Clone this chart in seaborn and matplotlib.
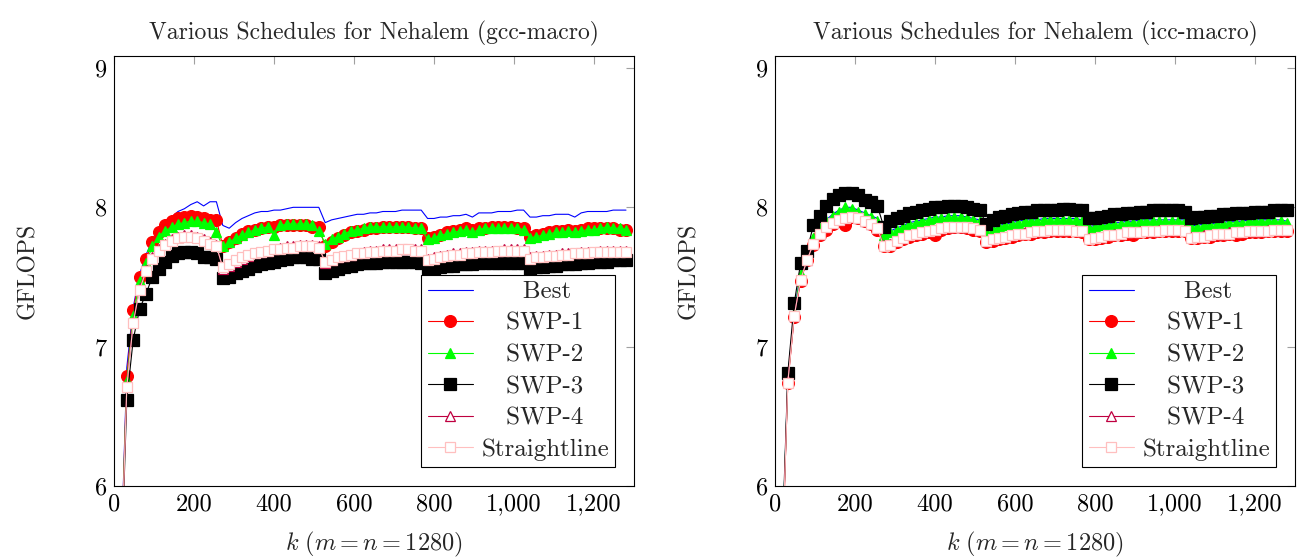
import matplotlib
matplotlib.use("Agg")
import matplotlib.pyplot as plt
from matplotlib.ticker import FuncFormatter, FixedLocator
import seaborn as sns
import pandas as pd

# ---------------- data ----------------
k_values = list(range(16, 1281, 16))

gcc_best = [
    5.3, 6.85, 7.28, 7.52, 7.66, 7.76, 7.83, 7.89, 7.93, 7.97, 7.99, 8.02, 8.04, 8.01, 8.04, 8.04,
    7.87, 7.85, 7.89, 7.92, 7.94, 7.96, 7.97, 7.97, 7.98, 7.98, 7.99, 8.00, 8.00, 8.00, 8.00, 8.00,
    7.89, 7.91, 7.92, 7.93, 7.94, 7.95, 7.95, 7.96, 7.96, 7.97, 7.97, 7.97, 7.98, 7.98, 7.98, 7.98,
    7.92, 7.92, 7.93, 7.93, 7.94, 7.94, 7.95, 7.93, 7.96, 7.96, 7.96, 7.97, 7.97, 7.97, 7.98, 7.98,
    7.93, 7.93, 7.94, 7.94, 7.95, 7.95, 7.95, 7.93, 7.96, 7.97, 7.97, 7.97, 7.97, 7.98, 7.98, 7.98]
gcc_swp1 = [
    5.3, 6.79, 7.26, 7.50, 7.63, 7.75, 7.82, 7.87, 7.90, 7.92, 7.93, 7.94, 7.93, 7.92, 7.91, 7.91,
    7.72, 7.75, 7.78, 7.81, 7.83, 7.84, 7.85, 7.86, 7.86, 7.87, 7.87, 7.87, 7.87, 7.87, 7.86, 7.86,
    7.72, 7.75, 7.78, 7.80, 7.82, 7.83, 7.84, 7.85, 7.85, 7.86, 7.86, 7.86, 7.86, 7.86, 7.85, 7.85,
    7.78, 7.79, 7.80, 7.82, 7.83, 7.84, 7.85, 7.84, 7.85, 7.85, 7.86, 7.86, 7.86, 7.86, 7.85, 7.85,
    7.79, 7.80, 7.81, 7.82, 7.83, 7.83, 7.84, 7.83, 7.84, 7.85, 7.85, 7.85, 7.85, 7.85, 7.84, 7.84]
gcc_swp2 = [
    5.3, 6.75, 7.22, 7.47, 7.60, 7.72, 7.79, 7.83, 7.86, 7.88, 7.89, 7.90, 7.90, 7.89, 7.88, 7.82,
    7.72, 7.75, 7.78, 7.80, 7.82, 7.84, 7.85, 7.86, 7.80, 7.87, 7.88, 7.88, 7.88, 7.88, 7.87, 7.83,
    7.74, 7.77, 7.79, 7.81, 7.83, 7.84, 7.85, 7.86, 7.86, 7.86, 7.86, 7.86, 7.86, 7.86, 7.85, 7.85,
    7.77, 7.78, 7.80, 7.81, 7.82, 7.83, 7.84, 7.82, 7.84, 7.85, 7.85, 7.85, 7.85, 7.85, 7.85, 7.84,
    7.78, 7.79, 7.80, 7.81, 7.82, 7.82, 7.83, 7.82, 7.83, 7.84, 7.84, 7.85, 7.86, 7.85, 7.85, 7.84]
gcc_swp3 = [
    5.2, 6.62, 7.05, 7.27, 7.38, 7.50, 7.56, 7.61, 7.65, 7.67, 7.68, 7.68, 7.67, 7.64, 7.64, 7.63,
    7.49, 7.50, 7.53, 7.54, 7.56, 7.58, 7.59, 7.60, 7.61, 7.62, 7.63, 7.64, 7.64, 7.64, 7.63, 7.63,
    7.53, 7.54, 7.56, 7.57, 7.58, 7.59, 7.60, 7.60, 7.60, 7.61, 7.61, 7.61, 7.61, 7.61, 7.61, 7.60,
    7.55, 7.56, 7.57, 7.58, 7.58, 7.59, 7.59, 7.59, 7.60, 7.60, 7.60, 7.60, 7.60, 7.60, 7.60, 7.60,
    7.56, 7.57, 7.57, 7.58, 7.58, 7.59, 7.59, 7.59, 7.60, 7.60, 7.61, 7.61, 7.61, 7.62, 7.62, 7.62]
gcc_swp4 = [
    5.25, 6.72, 7.18, 7.42, 7.55, 7.64, 7.70, 7.74, 7.77, 7.79, 7.80, 7.80, 7.79, 7.77, 7.75, 7.73,
    7.56, 7.58, 7.61, 7.63, 7.65, 7.67, 7.68, 7.69, 7.70, 7.71, 7.72, 7.72, 7.73, 7.73, 7.73, 7.72,
    7.60, 7.62, 7.64, 7.65, 7.66, 7.67, 7.68, 7.69, 7.69, 7.70, 7.70, 7.70, 7.70, 7.70, 7.70, 7.70,
    7.63, 7.64, 7.65, 7.66, 7.67, 7.67, 7.68, 7.68, 7.69, 7.69, 7.69, 7.69, 7.70, 7.70, 7.70, 7.70,
    7.64, 7.65, 7.65, 7.66, 7.66, 7.67, 7.67, 7.67, 7.68, 7.68, 7.68, 7.69, 7.69, 7.69, 7.69, 7.69]
gcc_straight = [
    5.25, 6.71, 7.17, 7.41, 7.54, 7.63, 7.69, 7.73, 7.76, 7.78, 7.79, 7.79, 7.78, 7.76, 7.74, 7.72,
    7.57, 7.59, 7.62, 7.64, 7.66, 7.67, 7.68, 7.69, 7.70, 7.70, 7.71, 7.71, 7.72, 7.72, 7.72, 7.71,
    7.61, 7.62, 7.64, 7.65, 7.66, 7.67, 7.67, 7.68, 7.68, 7.69, 7.69, 7.69, 7.70, 7.70, 7.69, 7.69,
    7.62, 7.63, 7.64, 7.65, 7.66, 7.66, 7.67, 7.67, 7.68, 7.68, 7.68, 7.69, 7.69, 7.69, 7.69, 7.69,
    7.63, 7.64, 7.64, 7.65, 7.65, 7.66, 7.66, 7.67, 7.67, 7.67, 7.68, 7.68, 7.68, 7.68, 7.68, 7.68]

icc_best = [
    5.35, 6.77, 7.25, 7.53, 7.67, 7.79, 7.86, 7.91, 7.95, 7.98, 8.00, 8.00, 7.98, 7.96, 7.94, 7.92,
    7.84, 7.83, 7.85, 7.87, 7.89, 7.90, 7.91, 7.92, 7.93, 7.93, 7.94, 7.94, 7.94, 7.93, 7.92, 7.91,
    7.83, 7.85, 7.87, 7.88, 7.89, 7.90, 7.91, 7.91, 7.91, 7.92, 7.92, 7.92, 7.92, 7.92, 7.92, 7.91,
    7.86, 7.87, 7.88, 7.88, 7.89, 7.89, 7.90, 7.90, 7.91, 7.91, 7.91, 7.91, 7.91, 7.91, 7.91, 7.91,
    7.87, 7.87, 7.88, 7.88, 7.89, 7.89, 7.90, 7.90, 7.90, 7.91, 7.91, 7.91, 7.91, 7.91, 7.91, 7.90]
icc_swp1 = [
    5.3, 6.74, 7.21, 7.47, 7.62, 7.73, 7.80, 7.84, 7.88, 7.90, 7.87, 7.93, 7.92, 7.90, 7.88, 7.84,
    7.72, 7.72, 7.75, 7.77, 7.79, 7.80, 7.81, 7.82, 7.80, 7.84, 7.85, 7.86, 7.86, 7.85, 7.84, 7.83,
    7.75, 7.76, 7.77, 7.78, 7.79, 7.80, 7.81, 7.81, 7.82, 7.82, 7.83, 7.83, 7.83, 7.83, 7.83, 7.82,
    7.77, 7.77, 7.78, 7.79, 7.80, 7.80, 7.81, 7.80, 7.82, 7.82, 7.82, 7.83, 7.83, 7.83, 7.83, 7.83,
    7.78, 7.78, 7.79, 7.79, 7.80, 7.80, 7.81, 7.80, 7.81, 7.82, 7.82, 7.82, 7.83, 7.83, 7.83, 7.83]
icc_swp2 = [
    5.35, 6.76, 7.24, 7.52, 7.66, 7.78, 7.85, 7.90, 7.94, 7.97, 8.00, 7.99, 7.97, 7.95, 7.93, 7.90,
    7.80, 7.82, 7.84, 7.86, 7.88, 7.89, 7.90, 7.91, 7.92, 7.92, 7.93, 7.93, 7.93, 7.92, 7.91, 7.90,
    7.82, 7.84, 7.86, 7.87, 7.88, 7.89, 7.90, 7.90, 7.90, 7.91, 7.91, 7.91, 7.91, 7.91, 7.91, 7.90,
    7.85, 7.86, 7.87, 7.87, 7.88, 7.88, 7.89, 7.89, 7.90, 7.90, 7.90, 7.90, 7.90, 7.90, 7.90, 7.90,
    7.86, 7.86, 7.87, 7.87, 7.88, 7.88, 7.89, 7.89, 7.89, 7.90, 7.90, 7.90, 7.90, 7.90, 7.90, 7.89]
icc_swp3 = [
    5.4, 6.81, 7.31, 7.60, 7.69, 7.87, 7.94, 8.01, 8.06, 8.09, 8.10, 8.10, 8.09, 8.05, 8.04, 8.01,
    7.86, 7.90, 7.92, 7.94, 7.96, 7.97, 7.98, 7.99, 8.00, 8.00, 8.01, 8.01, 8.01, 8.00, 7.99, 7.98,
    7.88, 7.91, 7.93, 7.94, 7.95, 7.96, 7.97, 7.97, 7.98, 7.98, 7.98, 7.98, 7.99, 7.99, 7.98, 7.98,
    7.92, 7.92, 7.93, 7.94, 7.95, 7.95, 7.96, 7.96, 7.97, 7.97, 7.98, 7.98, 7.98, 7.98, 7.98, 7.97,
    7.92, 7.93, 7.93, 7.94, 7.94, 7.95, 7.95, 7.96, 7.96, 7.96, 7.97, 7.97, 7.97, 7.98, 7.98, 7.98]
icc_swp4 = [
    5.3, 6.75, 7.22, 7.48, 7.62, 7.74, 7.81, 7.86, 7.89, 7.91, 7.92, 7.93, 7.92, 7.90, 7.88, 7.85,
    7.73, 7.74, 7.76, 7.78, 7.80, 7.81, 7.82, 7.83, 7.84, 7.85, 7.86, 7.86, 7.86, 7.86, 7.85, 7.84,
    7.76, 7.77, 7.78, 7.79, 7.80, 7.81, 7.82, 7.82, 7.83, 7.83, 7.84, 7.84, 7.84, 7.84, 7.84, 7.83,
    7.78, 7.78, 7.79, 7.80, 7.81, 7.81, 7.82, 7.82, 7.83, 7.83, 7.83, 7.84, 7.84, 7.84, 7.84, 7.84,
    7.79, 7.79, 7.80, 7.80, 7.81, 7.81, 7.82, 7.82, 7.82, 7.83, 7.83, 7.83, 7.84, 7.84, 7.84, 7.84]
icc_straight = [
    5.3, 6.74, 7.22, 7.48, 7.62, 7.74, 7.81, 7.86, 7.89, 7.91, 7.92, 7.93, 7.92, 7.90, 7.88, 7.85,
    7.72, 7.73, 7.76, 7.78, 7.80, 7.81, 7.82, 7.83, 7.84, 7.85, 7.86, 7.86, 7.86, 7.86, 7.85, 7.84,
    7.76, 7.77, 7.78, 7.79, 7.80, 7.81, 7.81, 7.82, 7.83, 7.83, 7.84, 7.84, 7.84, 7.84, 7.83, 7.83,
    7.77, 7.78, 7.79, 7.80, 7.80, 7.81, 7.82, 7.82, 7.82, 7.83, 7.83, 7.83, 7.84, 7.84, 7.84, 7.83,
    7.78, 7.79, 7.79, 7.80, 7.81, 7.81, 7.81, 7.82, 7.82, 7.83, 7.83, 7.83, 7.83, 7.84, 7.84, 7.84]

series_names = ["Best", "SWP-1", "SWP-2", "SWP-3", "SWP-4", "Straightline"]
panel_titles = ["Various Schedules for Nehalem (gcc-macro)",
                "Various Schedules for Nehalem (icc-macro)"]
x_ticks = [0, 200, 400, 600, 800, 1000, 1200]
y_ticks = [6, 7, 8, 9]

panels = [
    [gcc_best, gcc_swp1, gcc_swp2, gcc_swp3, gcc_swp4, gcc_straight],
    [icc_best, icc_swp1, icc_swp2, icc_swp3, icc_swp4, icc_straight],
]

# ---------------- style ----------------
sns.set_theme(style="white")
plt.rcParams["font.family"] = ["cmr10", "DejaVu Serif"]
plt.rcParams["mathtext.fontset"] = "cm"
plt.rcParams["axes.formatter.use_mathtext"] = True
plt.rcParams["axes.unicode_minus"] = False

styles = {
    "Best":         dict(color="#0000ff", marker=None),
    "SWP-1":        dict(color="#ff0000", marker="o", ms=8.5, mfc="#ff0000", mec="#ff0000"),
    "SWP-2":        dict(color="#00ff00", marker="^", ms=7.5, mfc="#00ff00", mec="#00ff00"),
    "SWP-3":        dict(color="#000000", marker="s", ms=8.0, mfc="#000000", mec="#000000"),
    "SWP-4":        dict(color="#bf0040", marker="^", ms=7.0, mfc="white", mec="#bf0040"),
    "Straightline": dict(color="#ffbfbf", marker="s", ms=7.5, mfc="white", mec="#ffbfbf"),
}

W, H = 1298, 558
fig = plt.figure(figsize=(W / 100, H / 100), dpi=100)
ax_lefts = [114, 775]
ax_w, ax_top, ax_bot = 520, 56, 486

legends = []
for i, (vals_list, title) in enumerate(zip(panels, panel_titles)):
    ax = fig.add_axes([ax_lefts[i] / W, (H - ax_bot) / H, ax_w / W, (ax_bot - ax_top) / H])
    for name, vals in zip(series_names, vals_list):
        st = styles[name]
        kw = dict(color=st["color"], linewidth=0.8)
        if st["marker"] is not None:
            kw.update(marker=st["marker"], markersize=st["ms"],
                      markerfacecolor=st["mfc"], markeredgecolor=st["mec"],
                      markeredgewidth=0.9)
        df = pd.DataFrame({"k": k_values, "v": vals})
        sns.lineplot(data=df, x="k", y="v", ax=ax, label=name, **kw)

    ax.set_xlim(0, 1300)
    ax.set_ylim(6, 9.086)
    ax.xaxis.set_major_locator(FixedLocator(x_ticks))
    ax.yaxis.set_major_locator(FixedLocator(y_ticks))
    ax.xaxis.set_major_formatter(FuncFormatter(lambda v, p: f"{int(v):,}"))
    ax.yaxis.set_major_formatter(FuncFormatter(lambda v, p: f"{int(v)}"))
    ax.tick_params(axis="both", which="major", direction="in", length=6, width=0.8,
                   color="#a0a0a0", labelsize=17.5, top=True, right=True,
                   labelcolor="black", pad=5)
    for sp in ax.spines.values():
        sp.set_visible(True)
        sp.set_color("black")
        sp.set_linewidth(0.8)
    ax.set_title(title, fontsize=17, pad=12)
    ax.set_xlabel(r"$k\ (m = n = 1280)$", fontsize=17.5, labelpad=11)
    ax.set_ylabel("GFLOPS", fontsize=17, labelpad=40)
    leg = ax.legend(loc="lower right", fontsize=18, frameon=True, fancybox=False,
                    edgecolor="black", framealpha=1, borderpad=0.25, labelspacing=0.36,
                    handlelength=1.8, handletextpad=0.35, borderaxespad=0.75, numpoints=1)
    leg.get_frame().set_linewidth(0.8)
    legends.append(leg)

# centre legend labels (pgfplots style) by left-padding with spaces
fig.canvas.draw()
renderer = fig.canvas.get_renderer()
for leg in legends:
    texts = leg.get_texts()
    widths = [t.get_window_extent(renderer).width for t in texts]
    wmax = max(widths)
    probe = texts[0]
    orig = probe.get_text()
    probe.set_text("a a")
    w2 = probe.get_window_extent(renderer).width
    probe.set_text("aa")
    w1 = probe.get_window_extent(renderer).width
    probe.set_text(orig)
    space_w = max(w2 - w1, 1.0)
    for t, w in zip(texts, widths):
        n = int(round((wmax - w) / 2.0 / space_w))
        t.set_text(" " * n + t.get_text())

fig.savefig("out.png", dpi=100)
